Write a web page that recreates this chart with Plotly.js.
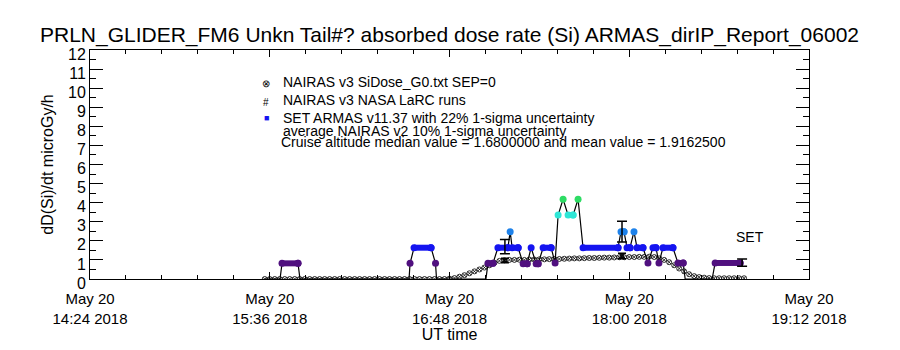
<!DOCTYPE html>
<html>
<head>
<meta charset="utf-8">
<script src="https://cdn.plot.ly/plotly-3.0.1.min.js"></script>
<style>html,body{margin:0;padding:0;background:#fff;}#chart{width:900px;height:350px;}</style>
</head>
<body>
<div id="chart"></div>
<script>
// ---------------- DATA ----------------
const DAY = "2018-05-20";
const X_TICK_TIMES = ["14:24", "15:36", "16:48", "18:00", "19:12"];
const X_TICK_LABELS = ["May 20<br>14:24 2018", "May 20<br>15:36 2018", "May 20<br>16:48 2018", "May 20<br>18:00 2018", "May 20<br>19:12 2018"];

// SET ARMAS dose rate (microGy/h)
const SET_TIMES = ["15:34:06","15:40:07","15:40:55","15:47:19","15:48:07","16:31:48","16:32:12","16:33:48","16:40:36","16:42:24","16:42:48",
  "17:02:36","17:03:24","17:05:24","17:07:24","17:11:24","17:12:18","17:13:06","17:15:30","17:17:30","17:19:06","17:20:42","17:22:42","17:23:30",
  "17:25:30","17:28:42","17:30:18","17:31:30","17:33:30","17:35:30","17:37:30","17:39:30","17:41:30","17:55:30","17:56:42","17:57:54","17:59:06",
  "18:00:18","18:01:54","18:03:06","18:05:30","18:07:30","18:09:30","18:10:42","18:11:54","18:13:30","18:17:30","18:19:30","18:21:36","18:22:24",
  "18:33:12","18:34:24","18:44:24"];
const SET_VALUES = [0,0,0.82,0.82,0,0,0.82,1.64,1.64,0.82,0,
  0,0.82,0.82,1.64,1.64,2.48,1.64,1.64,0.80,0.80,1.64,0.80,0.80,
  1.64,1.64,0.84,3.35,4.18,3.35,3.35,4.18,1.64,1.64,2.48,2.48,1.64,
  1.64,2.48,1.64,1.64,0.84,1.64,1.64,0.84,1.64,1.64,0.84,0.84,0,
  0,0.84,0.84];

// SET points shown with 22% 1-sigma error bars
const SET_ERR_TIMES = ["17:10:12", "17:57:06", "18:45:12"];
const SET_ERR_VALUES = [1.70, 2.48, 0.86];
const SET_SIGMA = 0.22;

// NAIRAS v3 SiDose_G0 (sampled every 2 minutes starting 15:34)
const NAIRAS_START = "15:34";
const NAIRAS_STEP_MIN = 2;
const NAIRAS_VALUES = [
  0.0,0.0,0.0,0.0,0.0,0.0,0.0,0.0,0.0,0.0,
  0.0,0.0,0.0,0.0,0.0,0.0,0.0,0.0,0.0,0.0,
  0.0,0.0,0.0,0.0,0.0,0.0,0.0,0.0,0.0,0.0,
  0.0,0.0,0.0,0.0,0.0,0.0,0.0,0.02,0.05,
  0.12,0.20,0.30,0.40,0.50,0.60,0.72,0.85,0.95,0.98,
  1.00,1.00,1.01,1.00,1.02,1.02,1.03,1.03,1.04,1.05,1.05,1.06,
  1.07,1.08,1.08,1.09,1.10,1.10,1.11,1.12,1.12,1.13,1.14,1.14,1.15,1.15,1.16,1.16,1.17,1.15,
  1.08,1.00,0.88,0.72,0.55,0.40,0.25,0.15,0.10,0.07,
  0.05,0.04,0.04,0.04,0.04,0.04,0.04,0.04];

// NAIRAS v3 NASA LaRC runs, 10% 1-sigma
const LARC_TIMES = ["17:10:12", "17:57:06"];
const LARC_VALUES = [0.97, 1.20];
const LARC_SIGMA = 0.12;

// ---------------- BUILD ----------------
const T = s => DAY + " " + (s.length === 5 ? s + ":00" : s);
function addMinutes(hm, m) {
  const [h, mi] = hm.split(":").map(Number);
  const tot = h * 60 + mi + m;
  const hh = String(Math.floor(tot / 60)).padStart(2, "0");
  const mm = String(tot % 60).padStart(2, "0");
  return hh + ":" + mm;
}
const nairasX = NAIRAS_VALUES.map((_, i) => T(addMinutes(NAIRAS_START, i * NAIRAS_STEP_MIN)));

const COLORS = {purple: "#50107f", blue: "#1414f0", lblue: "#1e82ea", cyan: "#2ee6d6", green: "#2edc64"};
function colorKey(v) {
  if (v <= 0) return null;
  if (v < 1.2) return "purple";
  if (v < 2.2) return "blue";
  if (v < 3.0) return "lblue";
  if (v < 3.8) return "cyan";
  return "green";
}
const groups = {};
Object.keys(COLORS).forEach(k => groups[k] = {x: [], y: []});
for (let i = 0; i < SET_VALUES.length; i++) {
  const v = SET_VALUES[i];
  const k = colorKey(v);
  if (!k) continue;
  const g = groups[k];
  g.x.push(T(SET_TIMES[i])); g.y.push(v);
  if (i + 1 < SET_VALUES.length && SET_VALUES[i + 1] === v) {
    g.x.push(T(SET_TIMES[i + 1])); g.y.push(v);
  }
  g.x.push(null); g.y.push(null);
}

const traces = [];
traces.push({
  x: nairasX, y: NAIRAS_VALUES, type: "scatter", mode: "markers",
  marker: {symbol: "circle-x-open", size: 5, color: "#000", line: {width: 0.8, color: "#000"}},
  hoverinfo: "skip"
});
traces.push({
  x: SET_TIMES.map(T), y: SET_VALUES, type: "scatter", mode: "lines",
  line: {color: "#000", width: 1.2}, hoverinfo: "skip"
});
Object.keys(COLORS).forEach(k => {
  traces.push({
    x: groups[k].x, y: groups[k].y, type: "scatter", mode: "lines+markers",
    connectgaps: false,
    line: {color: COLORS[k], width: 6},
    marker: {color: COLORS[k], size: 7, symbol: "circle"},
    hoverinfo: "skip"
  });
});
traces.push({
  x: SET_ERR_TIMES.map(T), y: SET_ERR_VALUES, type: "scatter", mode: "markers",
  marker: {size: 1, color: "rgba(0,0,0,0)"},
  error_y: {type: "data", array: SET_ERR_VALUES.map(v => v * SET_SIGMA), color: "#000", thickness: 1.5, width: 5},
  hoverinfo: "skip"
});
traces.push({
  x: LARC_TIMES.map(T), y: LARC_VALUES, type: "scatter", mode: "markers",
  marker: {symbol: "hash-open", size: 5, color: "#000", line: {width: 1, color: "#000"}},
  error_y: {type: "data", array: LARC_VALUES.map(v => v * LARC_SIGMA), color: "#000", thickness: 1.5, width: 4},
  hoverinfo: "skip"
});

// pixel -> paper helpers for annotation placement
const L = 90, R = 809, TOP = 50, BOT = 279;
const px = x => (x - L) / (R - L);
const py = y => (BOT - y) / (BOT - TOP);
const FONT = "Liberation Sans, Arial, sans-serif";
const ann = (x, y, text, size, color, xanchor) => ({
  xref: "paper", yref: "paper", x: px(x), y: py(y), text: text, showarrow: false,
  xanchor: xanchor || "left", yanchor: "middle", font: {family: FONT, size: size, color: color || "#000"}
});

const annotations = [
  ann(266, 83, "⊗", 10, "#000", "center"),
  ann(281, 82, "NAIRAS v3 SiDose_G0.txt SEP=0", 14),
  ann(266, 102, "#", 10, "#000", "center"),
  ann(281, 100, "NAIRAS v3 NASA LaRC runs", 14),
  ann(266, 118, "■", 9, COLORS.blue, "center"),
  ann(281, 118, "SET ARMAS v11.37 with 22% 1-sigma uncertainty", 14),
  ann(281, 131, "average NAIRAS v2 10% 1-sigma uncertainty", 14),
  ann(279, 142, "Cruise altitude median value = 1.6800000 and mean value = 1.9162500", 14),
  ann(750, 237, "SET", 14, "#000", "center")
];

const layout = {
  width: 900, height: 350,
  margin: {l: L, r: 900 - R, t: TOP, b: 350 - BOT, pad: 0},
  paper_bgcolor: "#fff", plot_bgcolor: "#fff",
  showlegend: false,
  font: {family: FONT, color: "#000", size: 15},
  title: {text: "PRLN_GLIDER_FM6 Unkn Tail#? absorbed dose rate (Si) ARMAS_dirIP_Report_06002",
          font: {family: FONT, size: 21, color: "#000"}, x: 0.5, xanchor: "center", y: 0.9, yanchor: "middle", xref: "paper"},
  xaxis: {
    type: "date",
    range: [T(X_TICK_TIMES[0]), T(X_TICK_TIMES[4])],
    tickmode: "array", tickvals: X_TICK_TIMES.map(T), ticktext: X_TICK_LABELS,
    ticks: "inside", ticklen: 7, tickwidth: 1, tickcolor: "#000",
    minor: {tickmode: "linear", tick0: T(X_TICK_TIMES[0]), dtick: 14.4 * 60 * 1000, ticks: "inside", ticklen: 4, tickcolor: "#000", showgrid: false},
    showline: true, linecolor: "#000", linewidth: 1, mirror: "allticks",
    showgrid: false, zeroline: false,
    tickfont: {family: FONT, size: 15, color: "#000"},
    ticklabelstandoff: 6,
    title: {text: "UT time", font: {family: FONT, size: 16, color: "#000"}, standoff: 2}
  },
  yaxis: {
    range: [0, 12],
    tickmode: "linear", tick0: 0, dtick: 1,
    ticks: "inside", ticklen: 13, tickwidth: 1, tickcolor: "#000",
    minor: {tickmode: "linear", tick0: 0, dtick: 0.5, ticks: "inside", ticklen: 6, tickcolor: "#000", showgrid: false},
    showline: true, linecolor: "#000", linewidth: 1, mirror: "allticks",
    showgrid: false, zeroline: false,
    tickfont: {family: FONT, size: 16, color: "#000"},
    ticklabelshift: 4,
    title: {text: "dD(Si)/dt microGy/h", font: {family: FONT, size: 16, color: "#000"}, standoff: 10}
  },
  annotations: annotations
};

Plotly.newPlot("chart", traces, layout, {staticPlot: true, displayModeBar: false});
</script>
</body>
</html>
